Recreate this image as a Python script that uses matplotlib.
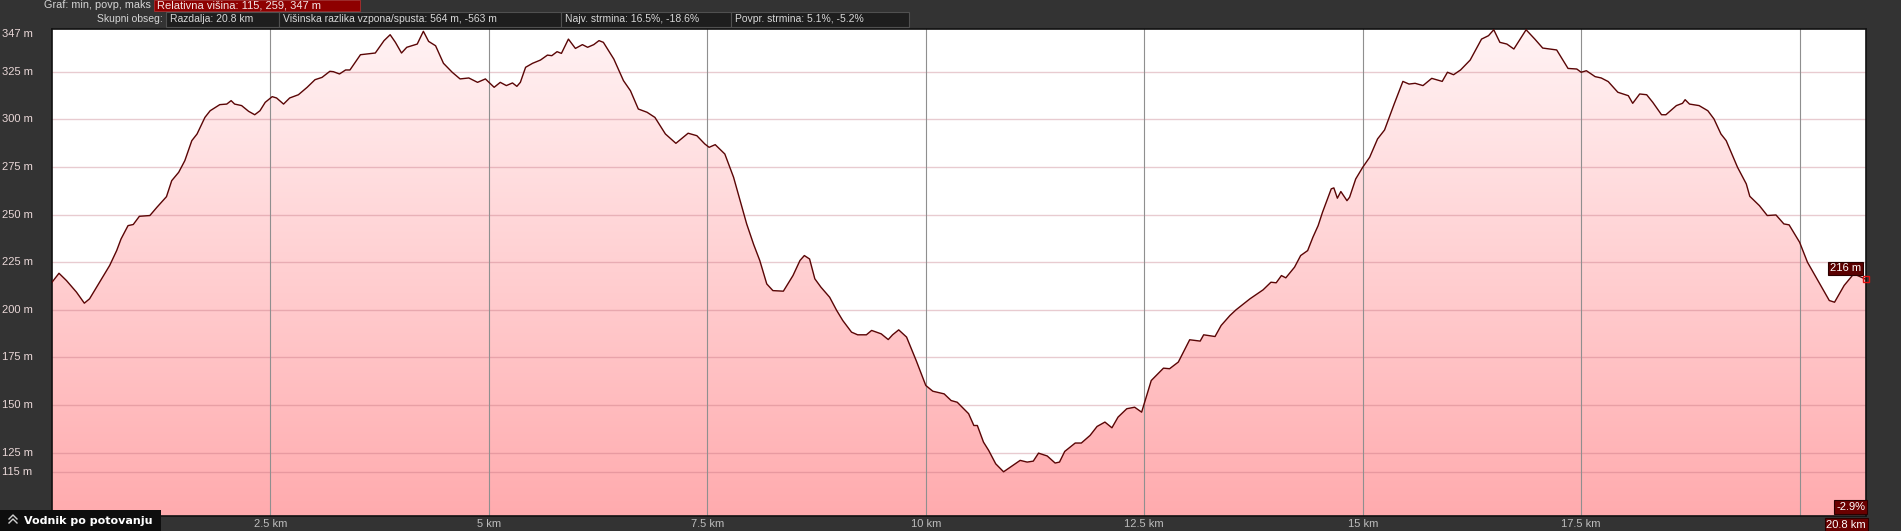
import matplotlib.pyplot as plt
import numpy as np
from matplotlib.patches import Rectangle, Polygon
from matplotlib.transforms import blended_transform_factory
from matplotlib.colors import LinearSegmentedColormap

plt.rcParams['font.family'] = ['Liberation Sans', 'DejaVu Sans']

# distance (km) and elevation (m)
dist = [0.00, 0.08, 0.165, 0.28, 0.37, 0.43, 0.51, 0.66, 0.74, 0.79, 0.87, 0.93, 1.00, 1.12, 1.20,
        1.31, 1.37, 1.45, 1.52, 1.60, 1.66, 1.75, 1.81, 1.92, 2.00, 2.05, 2.09, 2.17, 2.25, 2.32,
        2.38, 2.44, 2.52, 2.57, 2.65, 2.72, 2.82, 2.92, 3.01, 3.09, 3.18, 3.22, 3.29, 3.36, 3.41,
        3.53, 3.70, 3.80, 3.87, 3.93, 4.00, 4.06, 4.18, 4.25, 4.31, 4.39, 4.48, 4.58, 4.67, 4.77,
        4.87, 4.96, 5.06, 5.13, 5.20, 5.27, 5.32, 5.36, 5.42, 5.50, 5.59, 5.67, 5.72, 5.78, 5.83,
        5.91, 5.99, 6.07, 6.13, 6.20, 6.26, 6.31, 6.43, 6.54, 6.62, 6.71, 6.81, 6.90, 7.02, 7.14,
        7.28, 7.38, 7.47, 7.52, 7.59, 7.70, 7.80, 7.87, 7.95, 8.03, 8.10, 8.18, 8.25, 8.37, 8.48,
        8.56, 8.61, 8.67, 8.73, 8.80, 8.90, 8.98, 9.05, 9.15, 9.22, 9.32, 9.38, 9.49, 9.57, 9.62,
        9.69, 9.78, 9.89, 10.00, 10.08, 10.21, 10.29, 10.36, 10.49, 10.55, 10.59, 10.66, 10.72, 10.80, 10.89,
        10.97, 11.08, 11.16, 11.23, 11.29, 11.39, 11.48, 11.53, 11.59, 11.71, 11.78, 11.88, 11.96, 12.05, 12.13,
        12.20, 12.30, 12.39, 12.47, 12.51, 12.58, 12.72, 12.79, 12.89, 13.02, 13.14, 13.18, 13.31, 13.38, 13.48,
        13.55, 13.71, 13.86, 13.95, 14.01, 14.07, 14.12, 14.22, 14.29, 14.37, 14.43, 14.49, 14.54, 14.64, 14.67,
        14.71, 14.75, 14.82, 14.85, 14.92, 15.00, 15.08, 15.17, 15.25, 15.36, 15.46, 15.53, 15.60, 15.69, 15.79,
        15.91, 15.97, 16.04, 16.12, 16.23, 16.36, 16.44, 16.50, 16.57, 16.65, 16.73, 16.87, 16.97, 17.06, 17.22,
        17.35, 17.45, 17.50, 17.56, 17.66, 17.73, 17.81, 17.92, 18.04, 18.09, 18.17, 18.25, 18.32, 18.42, 18.47,
        18.59, 18.66, 18.69, 18.74, 18.85, 18.95, 19.02, 19.10, 19.16, 19.24, 19.29, 19.39, 19.43, 19.54, 19.63,
        19.73, 19.82, 19.88, 20.00, 20.09, 20.22, 20.34, 20.40, 20.51, 20.62, 20.76]
elev = [214.5, 219.2, 215.4, 209.3, 203.5, 205.8, 211.9, 223.3, 231.1, 237.2, 244.2, 244.8, 249.1, 249.5, 253.8,
        259.4, 267.8, 272.2, 278.3, 288.8, 292.3, 301.0, 304.5, 307.7, 308.0, 309.8, 308.0, 307.2, 304.2, 302.4,
        304.5, 308.9, 311.9, 311.2, 308.0, 311.2, 312.9, 316.8, 320.8, 322.0, 325.2, 325.0, 323.8, 325.9, 325.9,
        333.9, 334.8, 341.3, 344.4, 340.4, 334.8, 337.8, 339.5, 346.2, 340.9, 338.6, 329.4, 324.7, 321.2, 321.7,
        319.4, 321.2, 316.8, 319.4, 317.7, 319.1, 317.3, 319.4, 327.3, 329.4, 331.1, 333.7, 333.4, 335.5, 334.6,
        342.1, 337.2, 339.2, 337.8, 339.2, 341.3, 340.4, 331.6, 320.3, 315.0, 305.4, 303.7, 301.0, 292.3, 287.4,
        292.7, 291.4, 287.1, 285.3, 286.7, 281.8, 269.6, 258.2, 245.1, 234.3, 225.9, 213.6, 210.1, 209.8, 218.0,
        225.9, 228.5, 226.7, 216.3, 211.9, 206.6, 199.7, 194.4, 188.3, 186.9, 186.9, 189.2, 187.4, 184.4, 186.9,
        189.5, 185.7, 173.4, 160.3, 157.3, 155.9, 152.4, 151.5, 145.5, 139.3, 139.3, 130.6, 126.2, 119.2, 115.0,
        117.5, 121.0, 120.1, 120.6, 124.8, 123.3, 119.6, 120.1, 125.7, 130.1, 130.1, 134.1, 138.8, 141.1, 138.1,
        143.7, 148.1, 148.9, 146.3, 152.4, 162.9, 169.4, 169.1, 172.6, 184.3, 183.6, 186.9, 186.0, 191.8, 197.0,
        200.0, 205.8, 210.5, 214.5, 214.2, 218.0, 216.8, 222.4, 228.5, 231.1, 238.1, 244.2, 251.2, 263.5, 264.0,
        258.6, 262.1, 257.3, 259.1, 268.7, 274.8, 280.1, 289.7, 294.4, 308.0, 319.9, 318.5, 318.9, 317.7, 321.5,
        319.9, 324.7, 323.4, 325.9, 331.1, 342.1, 343.9, 347.0, 340.4, 339.5, 336.9, 347.0, 342.1, 337.4, 336.4,
        326.7, 326.4, 324.7, 325.5, 322.4, 321.7, 319.8, 314.2, 312.4, 308.4, 313.3, 312.9, 308.9, 302.4, 302.4,
        307.2, 308.4, 310.3, 308.0, 307.2, 304.5, 300.2, 292.3, 288.8, 280.1, 274.8, 266.1, 259.6, 254.7, 249.5,
        249.8, 245.1, 244.6, 235.5, 225.0, 214.5, 204.9, 204.0, 212.8, 218.9, 216.0]

y_ticks = [115, 125, 150, 175, 200, 225, 250, 275, 300, 325, 347]
x_ticks = [2.5, 5, 7.5, 10, 12.5, 15, 17.5, 20]
x_tick_labels = ['2.5 km', '5 km', '7.5 km', '10 km', '12.5 km', '15 km', '17.5 km']
end_grade = '-2.9%'
total_km = '20.8 km'

header_row1 = ('Graf: min, povp, maks', 'Relativna višina: 115, 259, 347 m')
header_row2_label = 'Skupni obseg:'
header_row2 = ['Razdalja: 20.8 km', 'Višinska razlika vzpona/spusta: 564 m, -563 m',
               'Najv. strmina: 16.5%, -18.6%', 'Povpr. strmina: 5.1%, -5.2%']

W, H = 1901, 531
BG = '#333333'


def fx(x):
    return x / W


def fy(y):
    return 1 - y / H


fig = plt.figure(figsize=(W / 100, H / 100), dpi=100, facecolor=BG)
ax = fig.add_axes([fx(52), fy(516), (1866 - 52) / W, (516 - 29) / H])
ax.set_facecolor('white')

ymin, ymax = 91.8, 347.4
xmax = dist[-1]
ax.set_xlim(0, xmax)
ax.set_ylim(ymin, ymax)

# gradient fill under the profile
cmap = LinearSegmentedColormap.from_list('pk', ['#ffabae', '#fff3f4'])
grad = np.linspace(1, 0, 256).reshape(-1, 1)
im = ax.imshow(grad, extent=[0, xmax, ymin, ymax], aspect='auto', cmap=cmap,
               origin='upper', zorder=1)
verts = [(dist[0], ymin)] + list(zip(dist, elev)) + [(dist[-1], ymin)]
poly = Polygon(verts, closed=True, facecolor='none', edgecolor='none')
ax.add_patch(poly)
im.set_clip_path(poly)

for v in y_ticks[:-1]:
    ax.axhline(v, color=(0.75, 0.42, 0.48, 0.35), lw=1.0, zorder=2)
for v in x_ticks:
    ax.axvline(v, color='#8f8f8f', lw=0.8, zorder=2)

ax.plot(dist, elev, color='#5a0505', lw=1.0, zorder=3)
ax.plot(dist[-1], elev[-1], marker='s', ms=4.5, mfc='none', mec='#e01010', mew=1,
        zorder=4, clip_on=False)

ax.set_xticks([])
ax.set_yticks([])
for s in ax.spines.values():
    s.set_color('#111111')
    s.set_linewidth(1.2)

# y labels on the dark margin
tr = blended_transform_factory(fig.transFigure, ax.transData)
for v in y_ticks:
    va = 'top' if v == y_ticks[-1] else 'center'
    yy = ymax if v == y_ticks[-1] else v
    ax.text(fx(2), yy, f'{v} m', transform=tr, ha='left', va=va, fontsize=8,
            color='#ead8d8', clip_on=False)

# x labels
trx = blended_transform_factory(ax.transData, fig.transFigure)
for v, lab in zip(x_ticks, x_tick_labels):
    ax.text(v, fy(524), lab, transform=trx, ha='center', va='center', fontsize=8,
            color='#bdbdbd', clip_on=False)

# end-of-track labels
ax.annotate(f'{elev[-1]:.0f} m', xy=(dist[-1], elev[-1]), xytext=(-5, 11),
            textcoords='offset pixels', ha='right', va='center', fontsize=8,
            color='white', zorder=5,
            bbox=dict(boxstyle='square,pad=0.15', fc='#5a0000', ec='#2a0000', lw=0.8))
fig.text(fx(1865), fy(507), end_grade, ha='right', va='center', fontsize=8, color='white',
         bbox=dict(boxstyle='square,pad=0.15', fc='#6a0000', ec='#2a0000', lw=0.8))
fig.text(fx(1866), fy(524.5), total_km, ha='right', va='center', fontsize=8, color='white',
         bbox=dict(boxstyle='square,pad=0.15', fc='#6a0000', ec='#2a0000', lw=0.8))

# header
fig.text(fx(151), fy(5.5), header_row1[0], ha='right', va='center', fontsize=7.8, color='#d5d5d5')
fig.patches.append(Rectangle((fx(154), fy(11)), (360 - 154) / W, 11 / H,
                             transform=fig.transFigure, fc='#8e0000', ec='#a83030', lw=0.6))
fig.text(fx(157), fy(5.5), header_row1[1], ha='left', va='center', fontsize=8, color='#f2e4e4')

fig.text(fx(163), fy(19.5), header_row2_label, ha='right', va='center', fontsize=7.5, color='#d5d5d5')
edges = [166, 279, 561, 731, 909]
for i, t in enumerate(header_row2):
    fig.patches.append(Rectangle((fx(edges[i]), fy(27)), (edges[i + 1] - edges[i]) / W, 15 / H,
                                 transform=fig.transFigure, fc='#1e1e1e', ec='#505050', lw=0.8))
    fig.text(fx(edges[i] + 4), fy(19.5), t, ha='left', va='center', fontsize=7.5, color='#d8d8d8')

# bottom-left tab
fig.patches.append(Rectangle((0, 0), 161 / W, 21 / H, transform=fig.transFigure,
                             fc='#0e0e0e', ec='none'))
for dy in (0, 4):
    fig.lines.append(plt.Line2D([fx(9), fx(13), fx(17)], [fy(523 - dy), fy(519 - dy), fy(523 - dy)],
                                transform=fig.transFigure, color='#cfcfcf', lw=1.0))
fig.text(fx(24), fy(521), 'Vodnik po potovanju', ha='left', va='center', fontsize=8,
         fontweight='bold', family='DejaVu Sans', color='white')

fig.savefig('out.png', dpi=100, facecolor=BG)
